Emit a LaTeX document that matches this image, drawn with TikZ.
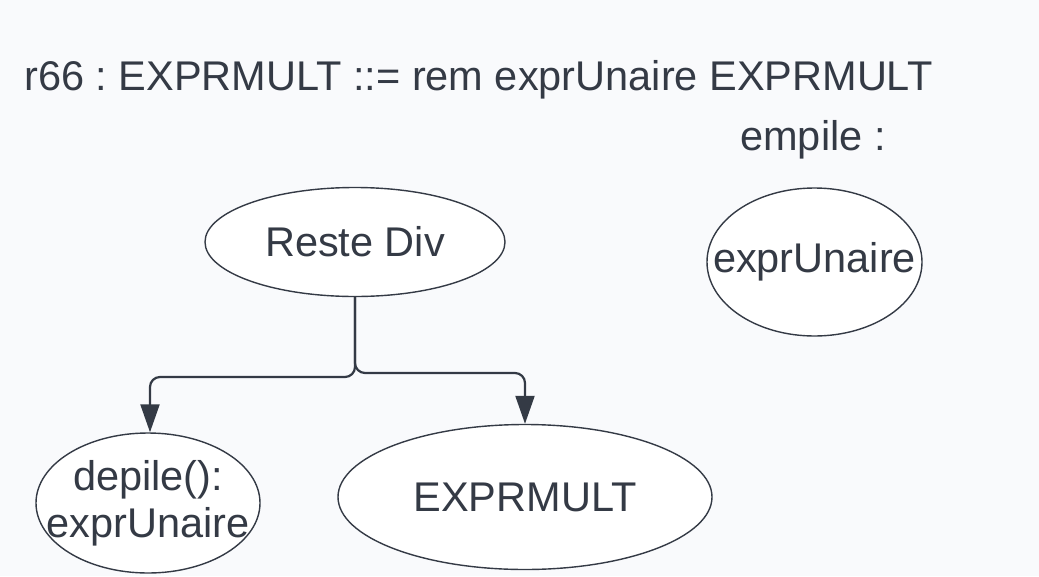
\documentclass[tikz,border=0pt]{standalone}
\usepackage{fontspec}
\setmainfont{Liberation Sans}
\usetikzlibrary{shapes.geometric,arrows.meta}
\definecolor{bg}{HTML}{F9FAFC}
\definecolor{ink}{HTML}{343A45}
\tikzset{
  oval/.style={ellipse, draw=ink, line width=1.4pt, fill=white, inner sep=0pt},
  lbl/.style={text=ink, font=\fontsize{41.5}{47}\selectfont, align=center, inner sep=0pt},
  conn/.style={draw=ink, line width=2.2pt, rounded corners=10pt, -{Triangle[length=28pt,width=19pt]}}
}
\frenchspacing
\begin{document}
\begin{tikzpicture}[x=1pt,y=-1pt]
\fill[bg] (0,0) rectangle (1039,576);
\useasboundingbox (0,0) rectangle (1039,576);
\node[lbl, anchor=west] (title) at (24,80) {r66 : EXPRMULT ::= rem exprUnaire EXPRMULT};
\node[lbl] (emp) at (813,140) {empile :};
\node[oval, minimum width=300pt, minimum height=109pt] (reste) at (355,242) {};
\node[lbl] at (reste.center) {Reste Div};
\node[oval, minimum width=215pt, minimum height=148pt] (eu) at (814.5,262) {};
\node[lbl] at (eu.center) {exprUnaire};
\node[oval, minimum width=224pt, minimum height=140pt] (dep) at (148,503) {};
\node[lbl] at (dep.center) {depile():\\exprUnaire};
\node[oval, minimum width=374pt, minimum height=145pt] (em) at (525,497) {};
\node[lbl] at (em.center) {EXPRMULT};
\draw[conn] (reste.south) -- (355,377) -- (150,377) -- (dep.north -| 150,0);
\draw[conn] (reste.south) -- (355,373) -- (525,373) -- (em.north);
\end{tikzpicture}
\end{document}
